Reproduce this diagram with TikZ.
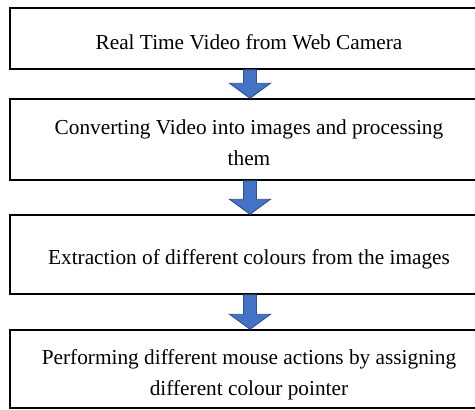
\documentclass[tikz,border=0pt]{standalone}
\usepackage{fontspec}
\setmainfont{Liberation Serif}
\usetikzlibrary{calc}
\definecolor{arrowblue}{HTML}{4472C4}
\definecolor{arrowedge}{HTML}{2F528F}
\tikzset{
  stagebox/.style={draw=black, line width=1.5pt, minimum width=480pt, inner sep=0pt},
  stagetext/.style={align=center, font=\fontsize{21.3}{31}\selectfont, inner sep=0pt},
  blockarrow/.style={fill=arrowblue, draw=arrowedge, line width=0.9pt, line join=miter}
}
\newcommand\flowarrow[2]{%
  \path[blockarrow] let \p1=(#1.south), \p2=(#2.north) in
    (\x1-6.5pt,\y1) -- (\x1+6.5pt,\y1) -- (\x1+6.5pt,\y2+15pt) -- (\x1+20.5pt,\y2+15pt)
    -- (\x1,\y2) -- (\x1-20.5pt,\y2+15pt) -- (\x1-6.5pt,\y2+15pt) -- cycle;}
\begin{document}
\begin{tikzpicture}[x=1pt,y=-1pt]
\useasboundingbox (0,0) rectangle (475,410);
\clip (0,0) rectangle (475,410);
\node[stagebox, minimum height=61pt] (b1) at (250,38.5) {};
\node[stagebox, minimum height=81pt] (b2) at (250,139.5) {};
\node[stagebox, minimum height=79pt] (b3) at (250,254.5) {};
\node[stagebox, minimum height=78pt] (b4) at (250,369) {};
\node[stagetext] (t1) at ($(b1.center)+(-1,3.5)$) {Real Time Video from Web Camera};
\node[stagetext] (t2) at ($(b2.center)+(-1,3.5)$) {Converting Video into images and processing\\them};
\node[stagetext] (t3) at ($(b3.center)+(-1,4.5)$) {Extraction of different colours from the images};
\node[stagetext] (t4) at ($(b4.center)+(-1,6)$) {Performing different mouse actions by assigning\\different colour pointer};
\flowarrow{b1}{b2}
\flowarrow{b2}{b3}
\flowarrow{b3}{b4}
\end{tikzpicture}
\end{document}
